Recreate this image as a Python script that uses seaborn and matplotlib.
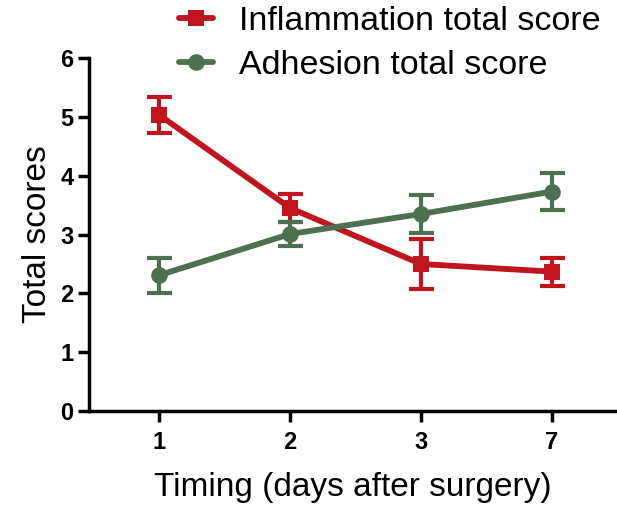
import matplotlib
matplotlib.use("Agg")
import matplotlib.pyplot as plt
import numpy as np
import pandas as pd
import seaborn as sns

days = ["1", "2", "3", "7"]
inflammation = [5.03, 3.45, 2.50, 2.37]
inflammation_err = [0.30, 0.24, 0.42, 0.24]
adhesion = [2.31, 3.01, 3.35, 3.73]
adhesion_err = [0.30, 0.20, 0.32, 0.32]

series = ["Inflammation total score", "Adhesion total score"]
colors = {"Inflammation total score": "#C0141E", "Adhesion total score": "#4D7050"}
markers = {"Inflammation total score": "s", "Adhesion total score": "o"}

pos = np.arange(len(days))
df = pd.DataFrame({
    "pos": np.concatenate([pos, pos]),
    "score": inflammation + adhesion,
    "err": inflammation_err + adhesion_err,
    "series": [series[0]] * len(days) + [series[1]] * len(days),
})

sns.set_style("ticks")
plt.rcParams["font.family"] = ["Liberation Sans", "DejaVu Sans"]
plt.rcParams["text.color"] = "black"
plt.rcParams["axes.labelcolor"] = "black"
plt.rcParams["xtick.color"] = "black"
plt.rcParams["ytick.color"] = "black"
plt.rcParams["axes.edgecolor"] = "black"

fig = plt.figure(figsize=(6.17, 5.05), dpi=100)
ax = fig.add_axes([0.144, 0.186, 0.856, 0.699])

for name in series:
    sub = df[df["series"] == name]
    ax.errorbar(sub["pos"], sub["score"], yerr=sub["err"], fmt="none",
                ecolor=colors[name], elinewidth=3, capsize=9, capthick=3, zorder=2)

sns.lineplot(data=df, x="pos", y="score", hue="series", style="series",
             palette=colors, markers=markers, dashes=False, linewidth=4.2,
             markersize=12, markeredgewidth=0, ax=ax, zorder=3)

ax.set_xlim(-0.54, 3.5)
ax.set_ylim(0, 6)
ax.set_xticks(pos)
ax.set_xticklabels(days)
ax.set_yticks(range(0, 7))
ax.tick_params(axis="both", labelsize=17, width=2.5, length=8, color="black")
for lab in ax.get_xticklabels() + ax.get_yticklabels():
    lab.set_fontweight("bold")
ax.tick_params(axis="x", pad=6)
ax.tick_params(axis="y", pad=3)
ax.set_xlabel("Timing (days after surgery)", fontsize=24, labelpad=13)
ax.set_ylabel("Total scores", fontsize=24, labelpad=5)
sns.despine(ax=ax)
ax.spines["left"].set_linewidth(2.5)
ax.spines["bottom"].set_linewidth(2.5)

handles, labels = ax.get_legend_handles_labels()
ax.legend(handles, labels, loc="upper left", bbox_to_anchor=(0.145, 1.185),
          frameon=False, fontsize=24.5, handlelength=1.0, handletextpad=0.75,
          labelspacing=0.38, borderaxespad=0)

fig.savefig("out.png", dpi=100)
